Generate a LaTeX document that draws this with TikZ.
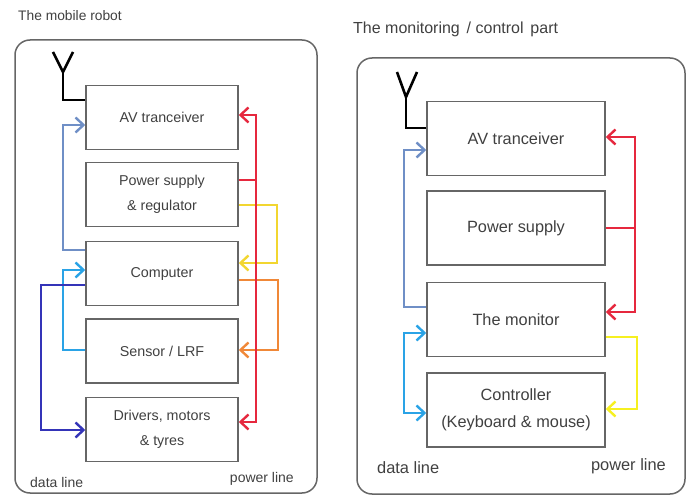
\documentclass[tikz,border=0pt]{standalone}
\usepackage{fontspec}
\setmainfont{Liberation Sans}
\usetikzlibrary{arrows.meta}
\definecolor{txt}{HTML}{404040}
\definecolor{bord}{HTML}{666666}
\definecolor{csteel}{HTML}{6F8FC6}
\definecolor{clight}{HTML}{2AA3E6}
\definecolor{cdark}{HTML}{3434B8}
\definecolor{cred}{HTML}{E6283E}
\definecolor{cyell}{HTML}{F2D630}
\definecolor{cyell2}{HTML}{F6F020}
\definecolor{corange}{HTML}{F08838}
\begin{document}
\begin{tikzpicture}[x=1pt,y=-1pt,
  outer/.style={draw=bord,line width=1.5pt,rounded corners=15pt},
  lbox/.style={draw=bord,line width=1.5pt,minimum width=152pt,minimum height=64pt,inner sep=0pt,
     text=txt,align=center,font=\fontsize{14.3}{25.5}\selectfont},
  rbox/.style={draw=bord,line width=1.5pt,minimum width=178pt,minimum height=74pt,inner sep=0pt,
     text=txt,align=center,font=\fontsize{16.3}{27}\selectfont},
  conn/.style={line width=2.4pt},
  ant/.style={line width=2.6pt,black},
  arr/.style={-{Straight Barb[length=8pt,width=15pt]}},
  both/.style={{Straight Barb[length=8pt,width=15pt]}-{Straight Barb[length=8pt,width=15pt]}},
  lab/.style={text=txt,inner sep=0pt}]
\useasboundingbox (0,0) rectangle (689,497);

% ---------- left panel ----------
\node[lab,anchor=west,font=\fontsize{13.8}{15}\selectfont] (t1) at (18,16) {The mobile robot};
\draw[outer] (15,40) rectangle (317,493);

\node[lbox] (av1) at (162,117.5) {AV tranceiver};
\node[lbox] (ps1) at (162,194.5) {Power supply\\\& regulator};
\node[lbox] (cp1) at (162,273.5) {Computer};
\node[lbox] (sn1) at (162,351) {Sensor / LRF};
\node[lbox] (dv1) at (162,429.5) {Drivers, motors\\\& tyres};

\node[lab,anchor=west,font=\fontsize{14}{15}\selectfont] (dl1) at (30,482) {data line};
\node[lab,anchor=east,font=\fontsize{14}{15}\selectfont] (pl1) at (294,479) {power line};

% antenna
\coordinate (a1l) at (53,52); \coordinate (a1r) at (73,52); \coordinate (a1m) at (63,72); \coordinate (a1b) at (63,100);
\draw[ant] (a1l) -- (a1m) -- (a1r);
\draw[ant] (a1m) -- (a1b) -- (av1.west |- a1b);

% data lines
\coordinate (s1a) at (63,250); \coordinate (s1b) at (63,125);
\draw[conn,csteel,arr] (cp1.west |- s1a) -- (s1a) -- (s1b) -- (av1.west |- s1b);
\coordinate (l1a) at (63,350); \coordinate (l1b) at (63,270);
\draw[conn,clight,arr] (sn1.west |- l1a) -- (l1a) -- (l1b) -- (cp1.west |- l1b);
\coordinate (d1a) at (41,285); \coordinate (d1b) at (41,430);
\draw[conn,cdark,arr] (cp1.west |- d1a) -- (d1a) -- (d1b) -- (dv1.west |- d1b);

% power lines
\coordinate (y1a) at (277,205); \coordinate (y1b) at (277,263);
\draw[conn,cyell,arr] (ps1.east |- y1a) -- (y1a) -- (y1b) -- (cp1.east |- y1b);
\coordinate (o1a) at (278,280); \coordinate (o1b) at (278,350);
\draw[conn,corange,arr] (cp1.east |- o1a) -- (o1a) -- (o1b) -- (sn1.east |- o1b);
\coordinate (r1a) at (256,115); \coordinate (r1b) at (256,422); \coordinate (r1c) at (256,180);
\draw[conn,cred] (ps1.east |- r1c) -- (r1c);
\draw[conn,cred,both] (av1.east |- r1a) -- (r1a) -- (r1b) -- (dv1.east |- r1b);

% ---------- right panel ----------
\node[lab,anchor=west,font=\fontsize{16}{18}\selectfont] (t2) at (353,29) {The monitoring\hspace{0.15em} / control\hspace{0.15em} part};
\draw[outer] (357,58) rectangle (685,494);

\node[rbox] (av2) at (516,138.5) {AV tranceiver};
\node[rbox] (ps2) at (516,228) {Power supply};
\node[rbox] (mn2) at (516,319.5) {The monitor};
\node[rbox] (ct2) at (516,410) {Controller\\(Keyboard \& mouse)};

\node[lab,anchor=west,font=\fontsize{16.4}{18}\selectfont] (dl2) at (377,468) {data line};
\node[lab,anchor=east,font=\fontsize{16.4}{18}\selectfont] (pl2) at (666,466) {power line};

% antenna
\coordinate (a2l) at (397,72); \coordinate (a2r) at (417,72); \coordinate (a2m) at (406,97); \coordinate (a2b) at (406,128);
\draw[ant] (a2l) -- (a2m) -- (a2r);
\draw[ant] (a2m) -- (a2b) -- (av2.west |- a2b);

% data lines
\coordinate (s2a) at (404,307); \coordinate (s2b) at (404,150);
\draw[conn,csteel,arr] (mn2.west |- s2a) -- (s2a) -- (s2b) -- (av2.west |- s2b);
\coordinate (l2a) at (404,333); \coordinate (l2b) at (404,413);
\draw[conn,clight,both] (mn2.west |- l2a) -- (l2a) -- (l2b) -- (ct2.west |- l2b);

% power lines
\coordinate (y2a) at (637,337); \coordinate (y2b) at (637,409);
\draw[conn,cyell2,arr] (mn2.east |- y2a) -- (y2a) -- (y2b) -- (ct2.east |- y2b);
\coordinate (r2a) at (635,137); \coordinate (r2b) at (635,312); \coordinate (r2c) at (635,228);
\draw[conn,cred] (ps2.east |- r2c) -- (r2c);
\draw[conn,cred,both] (av2.east |- r2a) -- (r2a) -- (r2b) -- (mn2.east |- r2b);
\end{tikzpicture}
\end{document}
